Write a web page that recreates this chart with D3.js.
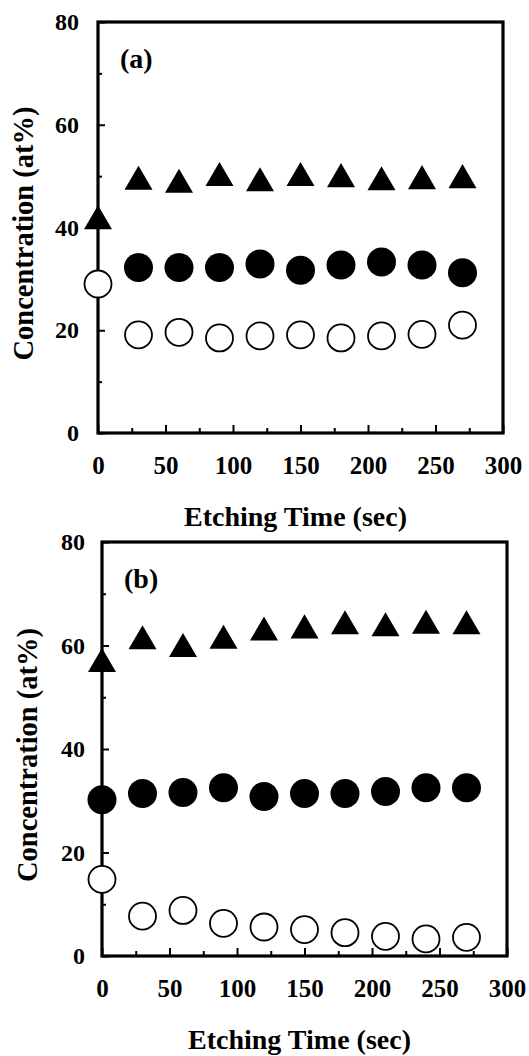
<!DOCTYPE html>
<html>
<head>
<meta charset="utf-8">
<script src="https://cdn.jsdelivr.net/npm/d3@7"></script>
<style>
  html, body { margin: 0; padding: 0; background: #fff; }
  svg { display: block; }
  text { font-family: "Liberation Serif", "Times New Roman", serif; font-weight: bold; fill: #000; }
</style>
</head>
<body>
<svg id="chart"></svg>
<script>
// ── DATA ──────────────────────────────────────────────────────────────
const times = [0, 30, 60, 90, 120, 150, 180, 210, 240, 270];

// panel (a)
const triangleA = [42.0, 49.7, 49.1, 50.4, 49.4, 50.4, 50.2, 49.6, 49.8, 50.0];
const filledA   = [null, 32.2, 32.2, 32.2, 32.9, 31.7, 32.7, 33.3, 32.7, 31.2];
const openA     = [29.0, 19.1, 19.6, 18.5, 18.9, 19.1, 18.5, 18.9, 19.2, 21.0];

// panel (b)
const triangleB = [57.2, 61.6, 60.1, 61.7, 63.3, 63.7, 64.5, 64.1, 64.6, 64.5];
const filledB   = [30.2, 31.4, 31.6, 32.5, 30.8, 31.4, 31.4, 31.8, 32.5, 32.5];
const openB     = [14.8, 7.7, 8.8, 6.3, 5.6, 5.1, 4.5, 3.8, 3.3, 3.6];

const xMajor = [0, 50, 100, 150, 200, 250, 300];
const xMinor = [25, 75, 125, 175, 225, 275];
const yMajor = [0, 20, 40, 60, 80];
const yMinor = [10, 30, 50, 70];

const xTitle = "Etching Time (sec)";
const yTitle = "Concentration (at%)";

// ── SVG ───────────────────────────────────────────────────────────────
const W = 529, H = 1056;
const svg = d3.select("#chart").attr("width", W).attr("height", H);
svg.append("rect").attr("width", W).attr("height", H).attr("fill", "#fff");

// triangle centred on its bounding box
const triType = {
  draw(ctx, size) {
    const w = Math.sqrt(size), h = w * 0.86;
    ctx.moveTo(0, -h / 2);
    ctx.lineTo(w / 2, h / 2);
    ctx.lineTo(-w / 2, h / 2);
    ctx.closePath();
  }
};

function drawPanel(p) {
  const x = d3.scaleLinear().domain([0, 300]).range([p.left, p.right]);
  const y = d3.scaleLinear().domain([0, 80]).range([p.bottom, p.top]);
  const g = svg.append("g");

  // frame
  g.append("rect")
    .attr("x", p.left).attr("y", p.top)
    .attr("width", p.right - p.left).attr("height", p.bottom - p.top)
    .attr("fill", "none").attr("stroke", "#000").attr("stroke-width", 3.2);

  // y axis (ticks point inwards)
  g.append("g")
    .attr("transform", `translate(${p.left},0)`)
    .call(d3.axisLeft(y).tickValues(yMajor).tickSize(-7).tickPadding(p.yPad))
    .call(ax => ax.select(".domain").remove())
    .call(ax => ax.selectAll("line").attr("stroke-width", 2))
    .call(ax => ax.selectAll("text").style("font-size", "24px"));
  g.append("g")
    .attr("transform", `translate(${p.left},0)`)
    .call(d3.axisLeft(y).tickValues(yMinor).tickSize(-4).tickFormat(""))
    .call(ax => ax.select(".domain").remove())
    .call(ax => ax.selectAll("line").attr("stroke-width", 2));

  // x axis
  g.append("g")
    .attr("transform", `translate(0,${p.bottom})`)
    .call(d3.axisBottom(x).tickValues(xMajor).tickSize(-8).tickPadding(23))
    .call(ax => ax.select(".domain").remove())
    .call(ax => ax.selectAll("line").attr("stroke-width", 2))
    .call(ax => ax.selectAll("text").style("font-size", "25px"));
  g.append("g")
    .attr("transform", `translate(0,${p.bottom})`)
    .call(d3.axisBottom(x).tickValues(xMinor).tickSize(-5).tickFormat(""))
    .call(ax => ax.select(".domain").remove())
    .call(ax => ax.selectAll("line").attr("stroke-width", 2));

  // titles
  g.append("text")
    .attr("x", (p.left + p.right) / 2 - 5).attr("y", p.bottom + 93)
    .attr("text-anchor", "middle").style("font-size", "28px")
    .text(xTitle);
  g.append("text")
    .attr("transform", `translate(${p.yTitleX},${(p.top + p.bottom) / 2 + 6}) rotate(-90)`)
    .attr("text-anchor", "middle").style("font-size", "28.5px")
    .text(yTitle);
  g.append("text")
    .attr("x", p.left + 22).attr("y", p.top + 46)
    .style("font-size", "28px")
    .text(p.label);

  // markers
  const tri = p.tri.map((v, i) => ({ t: times[i], v }));
  const filled = p.filled.map((v, i) => ({ t: times[i], v })).filter(d => d.v != null);
  const open = p.open.map((v, i) => ({ t: times[i], v }));

  g.selectAll(".filled").data(filled).join("circle")
    .attr("class", "filled")
    .attr("cx", d => x(d.t)).attr("cy", d => y(d.v))
    .attr("r", 14.5).attr("fill", "#000");

  g.selectAll(".open").data(open).join("circle")
    .attr("class", "open")
    .attr("cx", d => x(d.t)).attr("cy", d => y(d.v))
    .attr("r", 13.5).attr("fill", "#fff")
    .attr("stroke", "#000").attr("stroke-width", 1.8);

  g.selectAll(".tri").data(tri).join("path")
    .attr("class", "tri")
    .attr("transform", d => `translate(${x(d.t)},${y(d.v)})`)
    .attr("d", d3.symbol().type(triType).size(28 * 28)())
    .attr("fill", "#000");
}

drawPanel({ left: 98, right: 503, top: 22, bottom: 433, yPad: 19, yTitleX: 33,
  label: "(a)", tri: triangleA, filled: filledA, open: openA });
drawPanel({ left: 102, right: 507, top: 542, bottom: 956, yPad: 17, yTitleX: 37,
  label: "(b)", tri: triangleB, filled: filledB, open: openB });
</script>
</body>
</html>
